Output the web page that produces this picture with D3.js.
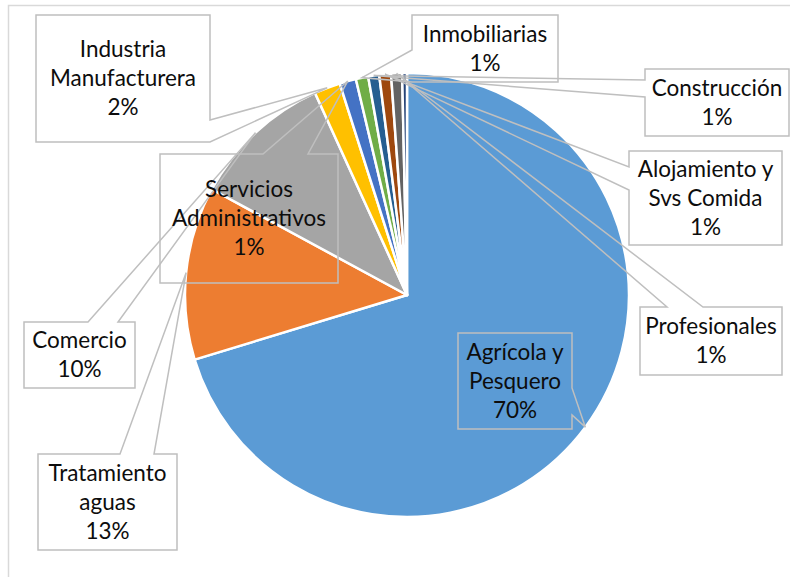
<!DOCTYPE html>
<html lang="es">
<head>
<meta charset="UTF-8">
<title>Pie</title>
<script src="https://cdn.jsdelivr.net/npm/d3@7"></script>
<style>
	*{
		margin: 0px;
		box-sizing: border-box;
	}
	html,body{
		width: 790px;
		height: 577px;
		overflow: hidden;
		background: #fff;
	}
	text{
		font-family: Lato, "Open Sans", sans-serif;
		font-size: 22.5px;
		fill: #0d0d0d;
	}
</style>
</head>
<body>
<svg id="svg" width="790" height="577"></svg>
<script>
// data (clockwise from 12 o'clock)
var categories = ["Agrícola y Pesquero", "Tratamiento aguas", "Comercio", "Industria Manufacturera",
	"Servicios Administrativos", "Inmobiliarias", "Construcción", "Alojamiento y Svs Comida", "Profesionales", ""];
var values = [70.3, 12.6, 10.3, 1.9, 1.2, 0.9, 0.8, 0.85, 0.8, 0.35];
var lines = [["Agrícola y", "Pesquero"], ["Tratamiento", "aguas"], ["Comercio"], ["Industria", "Manufacturera"],
	["Servicios", "Administrativos"], ["Inmobiliarias"], ["Construcción"], ["Alojamiento y", "Svs Comida"], ["Profesionales"], []];
var colors = ["#5B9BD5", "#ED7D31", "#A5A5A5", "#FFC000", "#4472C4", "#70AD47", "#255E91", "#9E480E", "#636363", "#264478"];

// callout boxes (layout only)
var boxes = [
	{x: 458, y: 333, w: 114, h: 96, side: "right", a: 55, b: 82},
	{x: 38, y: 454, w: 139, h: 96, side: "top", a: 82, b: 116},
	{x: 24, y: 322, w: 111, h: 66, side: "top", a: 64, b: 94},
	{x: 36, y: 15, w: 174, h: 127, side: "right", a: 105, b: 127},
	{x: 160, y: 154, w: 178, h: 129, side: "top", a: 103, b: 148},
	{x: 412, y: 15, w: 146, h: 67, side: "left", a: 35, b: 67},
	{x: 645, y: 69, w: 144, h: 67, side: "left", a: 11, b: 28},
	{x: 629, y: 151, w: 153, h: 94, side: "left", a: 16, b: 39},
	{x: 640, y: 307, w: 142, h: 68, side: "top", a: 27, b: 63},
	null
];

var svg = d3.select("#svg"),
	cx = 407,
	cy = 295,
	r = 222;

svg.append("rect")
	.attr("x", 8.5).attr("y", 5.5)
	.attr("width", 820).attr("height", 620)
	.attr("fill", "none")
	.attr("stroke", "#D9D9D9")
	.attr("stroke-width", 1.5);

var total = d3.sum(values);
var pie = d3.pie().sort(null).value(function(d) { return d; });
var arcs = pie(values);
var arc = d3.arc().innerRadius(0).outerRadius(r);

var g = svg.append("g").attr("transform", "translate(" + cx + "," + cy + ")");
g.selectAll("path")
	.data(arcs)
	.enter().append("path")
	.attr("d", arc)
	.attr("fill", function(d, i) { return colors[i]; })
	.attr("stroke", "#fff")
	.attr("stroke-width", 2.5)
	.attr("stroke-linejoin", "round");

function tipOf(d) {
	var a = (d.startAngle + d.endAngle) / 2;
	return [cx + r * Math.sin(a), cy - r * Math.cos(a)];
}

function callout(b, t) {
	var x = b.x, y = b.y, w = b.w, h = b.h, p = d3.path();
	p.moveTo(x, y);
	if (b.side == "top") { p.lineTo(x + b.a, y); p.lineTo(t[0], t[1]); p.lineTo(x + b.b, y); }
	p.lineTo(x + w, y);
	if (b.side == "right") { p.lineTo(x + w, y + b.a); p.lineTo(t[0], t[1]); p.lineTo(x + w, y + b.b); }
	p.lineTo(x + w, y + h);
	if (b.side == "bottom") { p.lineTo(x + b.b, y + h); p.lineTo(t[0], t[1]); p.lineTo(x + b.a, y + h); }
	p.lineTo(x, y + h);
	if (b.side == "left") { p.lineTo(x, y + b.b); p.lineTo(t[0], t[1]); p.lineTo(x, y + b.a); }
	p.closePath();
	return p.toString();
}

var labels = svg.append("g");
arcs.forEach(function(d, i) {
	var b = boxes[i];
	if (!b || !categories[i]) return;
	labels.append("path")
		.attr("d", callout(b, tipOf(d)))
		.attr("fill", "none")
		.attr("stroke", "#BFBFBF")
		.attr("stroke-width", 1.5)
		.attr("stroke-linejoin", "miter");
	var txt = lines[i].concat([Math.round(values[i] / total * 100) + "%"]);
	var y0 = b.y + b.h / 2 - (txt.length - 1) * 29 / 2;
	txt.forEach(function(s, k) {
		labels.append("text")
			.attr("x", b.x + b.w / 2)
			.attr("y", y0 + k * 29)
			.attr("dy", "0.35em")
			.attr("text-anchor", "middle")
			.text(s);
	});
});
</script>
</body>
</html>
